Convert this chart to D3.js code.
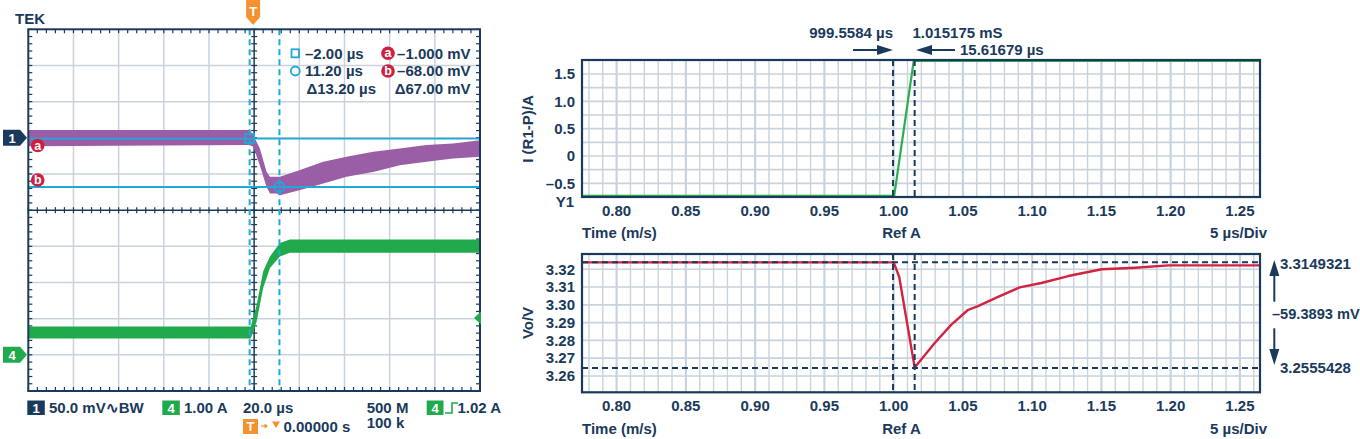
<!DOCTYPE html>
<html><head><meta charset="utf-8">
<script src="https://cdn.jsdelivr.net/npm/d3@7/dist/d3.min.js"></script>
<style>
body{margin:0;background:#fff;}
svg{display:block;}
text{font-family:"Liberation Sans",Arial,Helvetica,sans-serif;font-weight:bold;}
</style></head>
<body><svg id="c" width="1360" height="439"></svg>
<script>
// ---------------- DATA ----------------
// Oscilloscope (left): time in µs, CH1 in mV, CH4 in A
const scopeTimeTicks = [-100,-80,-60,-40,-20,0,20,40,60,80,100];
const ch1DivTicks = [-350,-300,-250,-200,-150,-100,-50,0,50,100,150];
const ch1Time  = [-100, -2, -0.4, 2.5, 5.5, 7, 10, 11.4, 20, 30.6, 40.9, 52.7, 64.5, 76.3, 88.1, 100];
const ch1Upper = [10.7, 10.7, 3.7, -14.3, -47, -54, -54, -54, -44.7, -33.2, -26.3, -19.4, -14.7, -10.1, -7.8, -3.2];
const ch1Lower = [-11.5, -10, -12.5, -37.8, -67.9, -77, -77, -79.4, -72.4, -63.2, -54, -47.1, -37.8, -33.2, -28.5, -26.3];
const ch4Time  = [-100, -1.5, 1.1, 4.0, 7.0, 11.4, 15.8, 30, 100];
const ch4Upper = [0.78, 0.78, 1.38, 2.31, 2.72, 3.09, 3.19, 3.19, 3.19];
const ch4Lower = [0.45, 0.45, 0.92, 1.85, 2.40, 2.72, 2.82, 2.82, 2.82];
const scopeCursorT = [-2.00, 11.20];      // µs
const scopeCursorV = [-1.000, -68.00];    // mV
const ch4TrigLevel = 1.02;                // A
const readoutLeft  = ["–2.00 µs", "11.20 µs", "Δ13.20 µs"];
const readoutRight = ["–1.000 mV", "–68.00 mV", "Δ67.00 mV"];

// Right plots: time in ms
const rightXTicks = [0.80,0.85,0.90,0.95,1.00,1.05,1.10,1.15,1.20,1.25];
const iTicks = [-0.5,0,0.5,1.0,1.5];
const iGrid = [-0.5,-0.25,0,0.25,0.5,0.75,1.0,1.25,1.5];
const vTicks = [3.26,3.27,3.28,3.29,3.30,3.31,3.32];
const iTime = [0.775, 1.0004, 1.0145, 1.2645];
const iVal  = [-0.73, -0.73, 1.74, 1.74];
const voTime = [0.775, 1.000, 1.004, 1.0152, 1.0295, 1.0415, 1.0536, 1.0609, 1.0754, 1.0910, 1.1067, 1.1261, 1.1502, 1.1744, 1.1986, 1.2645];
const voVal  = [3.3239, 3.3239, 3.3158, 3.2647, 3.2784, 3.2887, 3.2971, 3.2993, 3.3045, 3.3098, 3.3123, 3.3162, 3.3200, 3.3209, 3.3222, 3.3222];
const timeCursors = [0.9995584, 1.015175];
const voCursors = [3.3239, 3.2645];

// ---------------- STYLE ----------------
const NAVY="#1a3a5c", GRID="#c9d3dd", CYAN="#1fa9d9", PURPLE="#9a5ea7", GREEN="#20aa4c",
      RED="#cd1f3f", ORANGE="#f3922f", LGREEN="#2aaf4c", LRED="#d2233f";
const svg = d3.select("#c");
const FS = 15;
function txt(x, y, s, o={}){
  return svg.append("text").attr("x",x).attr("y",y+5.3).text(s)
    .attr("font-size",o.fs||FS).attr("fill",o.fill||NAVY)
    .attr("text-anchor",o.anchor||"start");
}

// ================= LEFT: OSCILLOSCOPE =================
const sx = d3.scaleLinear([-100,100],[28.3,480]);
const y1 = d3.scaleLinear([-350,150],[391,29.3]);
const y4 = d3.scaleLinear([-1,9],[391,29.3]);
const sg = svg.append("g");
// grid
sg.selectAll(".vg").data(scopeTimeTicks.slice(1,-1).filter(d=>d!==0)).join("line")
  .attr("x1",d=>sx(d)).attr("x2",d=>sx(d)).attr("y1",y1(150)).attr("y2",y1(-350))
  .attr("stroke",GRID).attr("stroke-width",1.5);
sg.selectAll(".hg").data(ch1DivTicks.slice(1,-1).filter(d=>d!==-100)).join("line")
  .attr("y1",d=>y1(d)).attr("y2",d=>y1(d)).attr("x1",sx(-100)).attr("x2",sx(100))
  .attr("stroke",GRID).attr("stroke-width",1.5);
// center lines
sg.append("line").attr("x1",sx(0)).attr("x2",sx(0)).attr("y1",y1(150)).attr("y2",y1(-350)).attr("stroke",NAVY).attr("stroke-width",1.5);
sg.append("line").attr("y1",y1(-100)).attr("y2",y1(-100)).attr("x1",sx(-100)).attr("x2",sx(100)).attr("stroke",NAVY).attr("stroke-width",1.5);
// minor ticks
const minorT = d3.range(-100,100.01,4);
const minorV = d3.range(-350,150.01,10);
const tk = sg.append("g").attr("stroke",NAVY).attr("stroke-width",1.2);
minorT.forEach(t=>{
  tk.append("line").attr("x1",sx(t)).attr("x2",sx(t)).attr("y1",y1(150)).attr("y2",y1(150)+4);
  tk.append("line").attr("x1",sx(t)).attr("x2",sx(t)).attr("y1",y1(-350)).attr("y2",y1(-350)-4);
  tk.append("line").attr("x1",sx(t)).attr("x2",sx(t)).attr("y1",y1(-100)-3).attr("y2",y1(-100)+3);
});
minorV.forEach(v=>{
  tk.append("line").attr("y1",y1(v)).attr("y2",y1(v)).attr("x1",sx(-100)).attr("x2",sx(-100)+4);
  tk.append("line").attr("y1",y1(v)).attr("y2",y1(v)).attr("x1",sx(100)).attr("x2",sx(100)-4);
  tk.append("line").attr("y1",y1(v)).attr("y2",y1(v)).attr("x1",sx(0)-3).attr("x2",sx(0)+3);
});
// traces (noise envelopes)
const a1 = d3.area().x((d,i)=>sx(ch1Time[i])).y0((d,i)=>y1(ch1Lower[i])).y1((d,i)=>y1(ch1Upper[i]));
sg.append("path").attr("d",a1(ch1Time)).attr("fill",PURPLE);
const a4 = d3.area().x((d,i)=>sx(ch4Time[i])).y0((d,i)=>y4(ch4Lower[i])).y1((d,i)=>y4(ch4Upper[i]));
sg.append("path").attr("d",a4(ch4Time)).attr("fill",GREEN);
// cursors
scopeCursorV.forEach(v=>sg.append("line").attr("x1",sx(-100)).attr("x2",sx(100)).attr("y1",y1(v)).attr("y2",y1(v)).attr("stroke",CYAN).attr("stroke-width",1.8));
scopeCursorT.forEach(t=>sg.append("line").attr("x1",sx(t)).attr("x2",sx(t)).attr("y1",y1(150)).attr("y2",y1(-350)).attr("stroke",CYAN).attr("stroke-width",2).attr("stroke-dasharray","6,4"));
sg.append("rect").attr("x",sx(scopeCursorT[0])-4.5).attr("y",y1(scopeCursorV[0])-4.5).attr("width",9).attr("height",9).attr("fill","none").attr("stroke",CYAN).attr("stroke-width",1.8);
sg.append("circle").attr("cx",sx(scopeCursorT[1])).attr("cy",y1(scopeCursorV[1])).attr("r",5).attr("fill","none").attr("stroke",CYAN).attr("stroke-width",1.8);
// frame
sg.append("rect").attr("x",sx(-100)).attr("y",y1(150)).attr("width",sx(100)-sx(-100)).attr("height",y1(-350)-y1(150)).attr("fill","none").attr("stroke",NAVY).attr("stroke-width",2);
// channel markers
const z1=y1(0), z4=y4(0);
svg.append("path").attr("d",`M3,${z1-8}H20L27,${z1}L20,${z1+8}H3Z`).attr("fill",NAVY);
txt(12,z1,"1",{fill:"#fff",fs:13,anchor:"middle"});
svg.append("path").attr("d",`M3,${z4-8}H20L27,${z4}L20,${z4+8}H3Z`).attr("fill",GREEN);
txt(12,z4,"4",{fill:"#fff",fs:13,anchor:"middle"});
const tl=y4(ch4TrigLevel);
svg.append("path").attr("d",`M481,${tl-6.5}L474,${tl}L481,${tl+6.5}Z`).attr("fill",GREEN);
// cursor letter markers on the left
[["a",145.5],["b",180]].forEach(([l,y])=>{
  svg.append("circle").attr("cx",37.7).attr("cy",y).attr("r",6.8).attr("fill",RED);
  txt(37.7,y-1.2,l,{fill:"#fff",fs:12.5,anchor:"middle"});
});
// trigger T marker
const tx=sx(0)-1;
svg.append("path").attr("d",`M${tx-7},0H${tx+7}V17L${tx},25L${tx-7},17Z`).attr("fill",ORANGE);
txt(tx,10.5,"T",{fill:"#fff",fs:13,anchor:"middle"});
txt(15,19,"TEK");
// readouts
const ry=[53.3,71,88.3];
svg.append("rect").attr("x",291.5).attr("y",ry[0]-4).attr("width",7.5).attr("height",8).attr("fill","none").attr("stroke",CYAN).attr("stroke-width",1.8);
svg.append("circle").attr("cx",295.3).attr("cy",ry[1]).attr("r",4.5).attr("fill","none").attr("stroke",CYAN).attr("stroke-width",1.8);
readoutLeft.forEach((s,i)=>txt(i===2?306.5:305,ry[i],s));
readoutRight.forEach((s,i)=>txt(470.5,ry[i],s,{anchor:"end"}));
[["a",0],["b",1]].forEach(([l,i])=>{
  svg.append("circle").attr("cx",388).attr("cy",ry[i]).attr("r",6.8).attr("fill",RED);
  txt(388,ry[i]-1.2,l,{fill:"#fff",fs:12.5,anchor:"middle"});
});
// bottom status line
svg.append("rect").attr("x",27.3).attr("y",400.5).attr("width",17.5).attr("height",14.5).attr("fill",NAVY);
txt(36,407.7,"1",{fill:"#fff",fs:13,anchor:"middle"});
txt(49,408,"50.0 mV∿BW");
svg.append("rect").attr("x",162.3).attr("y",400.5).attr("width",17.5).attr("height",14.5).attr("fill",GREEN);
txt(171,407.7,"4",{fill:"#fff",fs:13,anchor:"middle"});
txt(184,408,"1.00 A");
txt(243,408,"20.0 µs");
txt(366.7,408,"500 M");
txt(366.7,422.5,"100 k");
svg.append("rect").attr("x",243).attr("y",419).attr("width",15).attr("height",15).attr("fill",ORANGE);
txt(250.5,426,"T",{fill:"#fff",fs:13,anchor:"middle"});
svg.append("line").attr("x1",261).attr("x2",267).attr("y1",426).attr("y2",426).attr("stroke",ORANGE).attr("stroke-width",1.3);
svg.append("path").attr("d","M264.5,423.5L268,426L264.5,428.5Z").attr("fill",ORANGE);
svg.append("path").attr("d","M272,421.5H280L276,428Z").attr("fill",ORANGE);
txt(283.5,427,"0.00000 s");
svg.append("rect").attr("x",426.7).attr("y",400.5).attr("width",16.8).attr("height",14.5).attr("fill",GREEN);
txt(435,407.7,"4",{fill:"#fff",fs:13,anchor:"middle"});
svg.append("path").attr("d","M445,413H452V403H458").attr("fill","none").attr("stroke",GREEN).attr("stroke-width",1.6);
txt(457.5,408,"1.02 A");

// ================= RIGHT: PLOTS =================
const rx = d3.scaleLinear([0.775,1.2645],[582,1260]);
const iy = d3.scaleLinear([-0.75,1.756],[197,60]);
const vy = d3.scaleLinear([3.2508,3.3286],[392.3,254]);
const minorX = d3.range(78,127).map(d=>d/100);
function panel(yScale, hGrid, ticks, fmt){
  const g = svg.append("g");
  const [y0,yTop] = yScale.range();
  g.selectAll(".mx").data(minorX).join("line")
    .attr("x1",d=>rx(d)).attr("x2",d=>rx(d)).attr("y1",yTop).attr("y2",y0)
    .attr("stroke",GRID).attr("stroke-width",d=>Math.round(d*100)%5===0?2.2:1.4);
  g.selectAll(".hy").data(hGrid).join("line")
    .attr("y1",d=>yScale(d)).attr("y2",d=>yScale(d)).attr("x1",rx(0.775)).attr("x2",rx(1.2645))
    .attr("stroke",GRID).attr("stroke-width",1.6);
  ticks.forEach(t=>txt(575,yScale(t),fmt(t),{anchor:"end"}));
  rightXTicks.forEach(t=>txt(rx(t),y0+13.5,d3.format(".2f")(t),{anchor:"middle"}));
  txt(582,y0+36,"Time (m/s)");
  txt(901.5,y0+36,"Ref A",{anchor:"middle"});
  txt(1267,y0+36,"5 µs/Div",{anchor:"end"});
  return g;
}
// top panel
const gt = panel(iy, iGrid, iTicks, d=>d===0?"0":(d<0?"–":"")+d3.format(".1f")(Math.abs(d)));
gt.append("path").datum(iTime).attr("d",d3.line().x((d,i)=>rx(iTime[i])).y((d,i)=>iy(iVal[i])))
  .attr("fill","none").attr("stroke",LGREEN).attr("stroke-width",2.2);
timeCursors.forEach(t=>gt.append("line").attr("x1",rx(t)).attr("x2",rx(t)).attr("y1",60).attr("y2",197)
  .attr("stroke",NAVY).attr("stroke-width",2).attr("stroke-dasharray","6,4"));
gt.append("rect").attr("x",582).attr("y",60).attr("width",678).attr("height",137).attr("fill","none").attr("stroke",NAVY).attr("stroke-width",2.2);
txt(574,202,"Y1",{anchor:"end"});
svg.append("text").attr("transform","translate(533,129) rotate(-90)").attr("text-anchor","middle")
  .attr("font-size",FS).attr("fill",NAVY).text("I (R1-P)/A");
// header
txt(893,33,"999.5584 µs",{anchor:"end"});
txt(912.5,33,"1.015175 mS");
txt(960,50,"15.61679 µs");
const arrow=(x1,y1_,x2,y2,hl=16,hw=5)=>{
  const ang=Math.atan2(y2-y1_,x2-x1), c=Math.cos(ang), s=Math.sin(ang);
  const bx=x2-hl*c, by=y2-hl*s;
  svg.append("line").attr("x1",x1).attr("y1",y1_).attr("x2",bx).attr("y2",by).attr("stroke",NAVY).attr("stroke-width",2);
  svg.append("path").attr("d",`M${x2},${y2}L${bx-hw*s},${by+hw*c}L${bx+hw*s},${by-hw*c}Z`).attr("fill",NAVY);
};
arrow(853,50,893,50);
arrow(955,50,916,50);

// bottom panel
const gb = panel(vy, vTicks, vTicks, d3.format(".2f"));
gb.append("path").datum(voTime).attr("d",d3.line().x((d,i)=>rx(voTime[i])).y((d,i)=>vy(voVal[i])))
  .attr("fill","none").attr("stroke",LRED).attr("stroke-width",2.4).attr("stroke-linejoin","round");
timeCursors.forEach(t=>gb.append("line").attr("x1",rx(t)).attr("x2",rx(t)).attr("y1",254).attr("y2",392.3)
  .attr("stroke",NAVY).attr("stroke-width",2).attr("stroke-dasharray","6,4"));
voCursors.forEach(v=>gb.append("line").attr("y1",vy(v)).attr("y2",vy(v)).attr("x1",582).attr("x2",1260)
  .attr("stroke",NAVY).attr("stroke-width",2).attr("stroke-dasharray","6,4"));
gb.append("rect").attr("x",582).attr("y",254).attr("width",678).attr("height",138.3).attr("fill","none").attr("stroke",NAVY).attr("stroke-width",2.2);
svg.append("text").attr("transform","translate(533,323) rotate(-90)").attr("text-anchor","middle")
  .attr("font-size",FS).attr("fill",NAVY).text("Vo/V");
// right annotations
txt(1280,263.3,"3.3149321");
txt(1272,314,"–59.3893 mV",{fs:14.6});
txt(1280,367.3,"3.2555428");
arrow(1274.3,301.7,1274.3,260,16,5);
arrow(1274.3,328.3,1274.3,365,16,5);
</script></body></html>
